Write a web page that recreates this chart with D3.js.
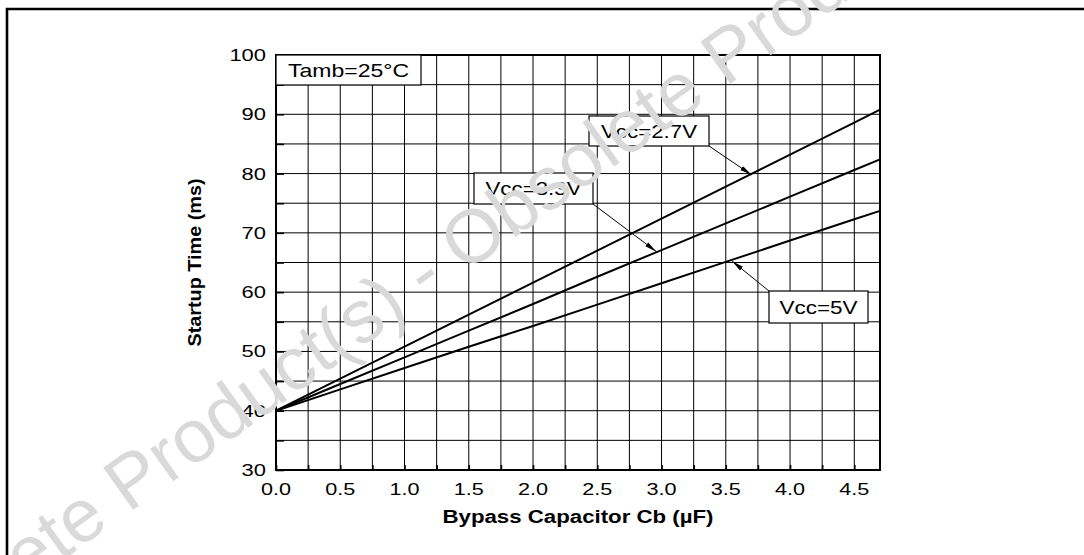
<!DOCTYPE html>
<html><head><meta charset="utf-8">
<script src="https://cdn.jsdelivr.net/npm/d3@7/dist/d3.min.js"></script>
<style>
html,body{margin:0;padding:0;background:#fff;}
svg{display:block;font-family:"Liberation Sans",Arial,sans-serif;}
</style></head>
<body>
<svg id="chart" width="1084" height="555"></svg>
<script>
const xValues = [0, 0.5, 1.0, 1.5, 2.0, 2.5, 3.0, 3.5, 4.0, 4.5, 4.7];
const vcc27 = [40, 45.4, 50.8, 56.2, 61.6, 67.0, 72.4, 77.8, 83.2, 88.6, 90.8];
const vcc33 = [40, 44.5, 49.0, 53.5, 58.0, 62.6, 67.1, 71.6, 76.1, 80.6, 82.4];
const vcc50 = [40, 43.6, 47.2, 50.8, 54.3, 57.9, 61.5, 65.1, 68.7, 72.3, 73.7];
const seriesNames = ["Vcc=2.7V", "Vcc=3.3V", "Vcc=5V"];
const xTickLabels = ["0.0","0.5","1.0","1.5","2.0","2.5","3.0","3.5","4.0","4.5"];
const yTickLabels = ["30","40","50","60","70","80","90","100"];
const xTitle = "Bypass Capacitor Cb (\u00B5F)";
const yTitle = "Startup Time (ms)";
const noteText = "Tamb=25\u00B0C";
const watermark = "Obsolete Product(s) - Obsolete Product(s)";

const svg = d3.select("#chart");
const L = 276, R = 880, T = 55, B = 470;
const x = d3.scaleLinear().domain([0, 4.7]).range([L, R]);
const y = d3.scaleLinear().domain([30, 100]).range([B, T]);

// horizontally stretch text (source image is stretched)
function stretch(sel, k) {
  sel.each(function() {
    const n = this.getComputedTextLength();
    d3.select(this).attr("textLength", n * k).attr("lengthAdjust", "spacingAndGlyphs");
  });
  return sel;
}

// outer frame
svg.append("path").attr("d", `M7,560 L7,9 L1090,9`).attr("fill","none").attr("stroke","#000").attr("stroke-width",2.6);

// grid
const g = svg.append("g");
const vgrid = d3.range(0, 4.7001, 0.25).filter(v => v > 0 && v < 4.69);
g.selectAll("line.vg").data(vgrid).join("line")
  .attr("x1", d => x(d)).attr("x2", d => x(d)).attr("y1", T).attr("y2", B)
  .attr("stroke","#000").attr("stroke-width",1);
const hgrid = d3.range(35, 100, 5);
g.selectAll("line.hg").data(hgrid).join("line")
  .attr("x1", L).attr("x2", R).attr("y1", d => y(d)).attr("y2", d => y(d))
  .attr("stroke","#000").attr("stroke-width",1);

// inward ticks
const xAxis = d3.axisBottom(x).tickValues(d3.range(0, 4.7, 0.25)).tickSize(-5).tickFormat("");
const ax = svg.append("g").attr("transform",`translate(0,${B})`).call(xAxis);
ax.select(".domain").remove();
ax.selectAll("line").attr("stroke-width",1.6);
const yAxis = d3.axisLeft(y).tickValues(d3.range(30, 101, 5)).tickSize(-8).tickFormat("");
const ay = svg.append("g").attr("transform",`translate(${L},0)`).call(yAxis);
ay.select(".domain").remove();
ay.selectAll("line").attr("stroke-width",1.6);

// tick labels
stretch(svg.append("g").selectAll("text").data(xTickLabels).join("text")
  .attr("x", d => x(+d)).attr("y", 495).attr("text-anchor","middle")
  .attr("font-size",16.5).text(d => d), 1.31);
stretch(svg.append("g").selectAll("text").data(yTickLabels).join("text")
  .attr("x", 266).attr("y", d => y(+d) + 6).attr("text-anchor","end")
  .attr("font-size",17).text(d => d), 1.29);

// titles
const xt = svg.append("text").attr("x", 578).attr("y", 523).attr("text-anchor","middle")
  .attr("font-size",18).attr("font-weight","bold").text(xTitle);
xt.attr("textLength", 271).attr("lengthAdjust","spacingAndGlyphs");
const yt = svg.append("text").attr("transform","translate(201,262.5) rotate(-90)").attr("text-anchor","middle")
  .attr("font-size",19).attr("font-weight","bold").text(yTitle);
yt.attr("textLength", 168).attr("lengthAdjust","spacingAndGlyphs");

// plot border
svg.append("rect").attr("x",L).attr("y",T).attr("width",R-L).attr("height",B-T)
  .attr("fill","none").attr("stroke","#000").attr("stroke-width",2);

// series lines
const line = d3.line().x((d,i) => x(xValues[i])).y(d => y(d));
[vcc27, vcc33, vcc50].forEach(s => {
  svg.append("path").datum(s).attr("d", line).attr("fill","none")
    .attr("stroke","#000").attr("stroke-width",2);
});

// arrow marker
svg.append("defs").append("marker").attr("id","arr").attr("viewBox","0 0 12 6")
  .attr("refX",12).attr("refY",3).attr("markerWidth",12).attr("markerHeight",6)
  .attr("markerUnits","userSpaceOnUse").attr("orient","auto")
  .append("path").attr("d","M0,0.6 L12,3 L0,5.4 Z").attr("fill","#000");

function labelBox(txt, x0, y0, w, h, fs, tw) {
  svg.append("rect").attr("x",x0).attr("y",y0).attr("width",w).attr("height",h)
    .attr("fill","#fff").attr("stroke","#000").attr("stroke-width",1.2);
  svg.append("text").attr("x",x0 + w/2).attr("y",y0 + h/2 + fs*0.36).attr("text-anchor","middle")
    .attr("font-size",fs).attr("textLength", tw).attr("lengthAdjust","spacingAndGlyphs").text(txt);
}
function arrow(x1,y1,x2,y2){
  svg.append("line").attr("x1",x1).attr("y1",y1).attr("x2",x2).attr("y2",y2)
    .attr("stroke","#000").attr("stroke-width",1).attr("marker-end","url(#arr)");
}
// note box
labelBox(noteText, L, T, 145, 30, 18.5, 121);
// series labels with arrows pointing to lines
labelBox(seriesNames[0], 589, 116, 120, 30, 18.5, 96);
arrow(709, 146, x(3.7), y(40 + (vcc27[8]-40)*3.7/4.0) + 1);
labelBox(seriesNames[1], 474, 173, 119, 31, 18.5, 96);
arrow(593, 204, x(2.96), y(vcc33[6] - 0.1) + 1);
labelBox(seriesNames[2], 769, 291, 99, 32, 18.5, 78);
arrow(769, 291, x(3.55), y(vcc50[7] + 0.3) + 1);

// watermark
svg.append("text").attr("transform","translate(437,293) rotate(-35.5)")
  .attr("text-anchor","middle").attr("font-size",75).attr("fill","#d9d9d9")
  .text(watermark);
</script>
</body></html>
